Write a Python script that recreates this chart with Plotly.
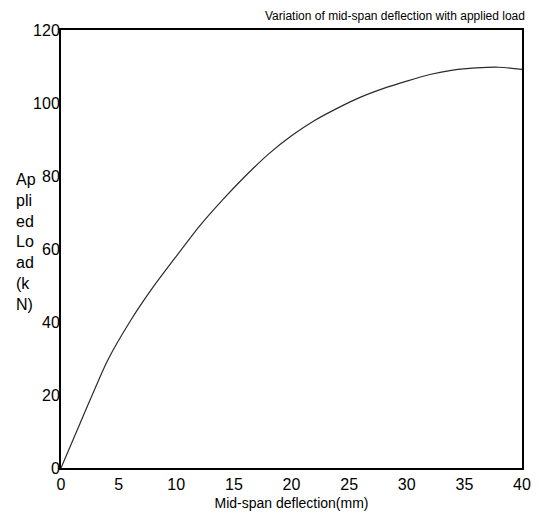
import plotly.graph_objects as go

deflection_mm = [0, 2, 4, 6, 8, 10, 12, 14, 16, 18, 20, 22, 24, 26, 28, 30, 32, 34, 36, 38, 40]
load_kN = [0, 14.8, 29.2, 40.2, 49.6, 58, 66.2, 73.4, 80, 86, 91, 95.2, 98.6, 101.6, 104, 106, 107.8, 109, 109.6, 109.8, 109.2]

x_ticks = [0, 5, 10, 15, 20, 25, 30, 35, 40]
y_ticks = [0, 20, 40, 60, 80, 100, 120]

title_text = "Variation of mid-span deflection with applied load"
x_title = "Mid-span deflection(mm)"
y_title_lines = ["Ap", "pli", "ed", "Lo", "ad", "(k", "N)"]

FONT = "Liberation Sans, Arial, sans-serif"

fig = go.Figure()
fig.add_trace(go.Scatter(
    x=deflection_mm, y=load_kN, mode="lines",
    line=dict(color="#2a2a2a", width=1.2, shape="spline", smoothing=0.6),
    showlegend=False, hoverinfo="skip",
))

fig.update_layout(
    width=523, height=503,
    margin=dict(l=53, r=9, t=22, b=43),
    paper_bgcolor="white", plot_bgcolor="white",
    font=dict(family=FONT, color="black", size=16),
    showlegend=False,
)

fig.update_xaxes(
    range=[0, 40], tickvals=x_ticks, ticktext=[str(v) for v in x_ticks],
    showgrid=False, zeroline=False, showline=True, linecolor="black", linewidth=2,
    mirror=True, ticks="", tickfont=dict(size=16, family=FONT, color="black"),
    title=dict(text=x_title, font=dict(size=14, family=FONT, color="black"), standoff=8),
    ticklabelstandoff=1, automargin=False,
)
fig.update_yaxes(
    range=[0, 120], tickvals=y_ticks, ticktext=[str(v) for v in y_ticks],
    showgrid=False, zeroline=False, showline=True, linecolor="black", linewidth=2,
    mirror=True, ticks="", tickfont=dict(size=16, family=FONT, color="black"),
    ticklabelstandoff=-4, automargin=False,
)

fig.add_annotation(
    text=title_text, xref="paper", yref="paper", x=1.011, y=1.0,
    xanchor="right", yanchor="bottom", yshift=5, showarrow=False,
    font=dict(size=12, family=FONT, color="black"),
)
fig.add_annotation(
    text="<br>".join(y_title_lines), xref="paper", yref="paper", x=-0.102, y=0.683,
    xanchor="left", yanchor="top", showarrow=False, align="left",
    font=dict(size=16, family=FONT, color="black"),
)

fig.write_html("out.html")
